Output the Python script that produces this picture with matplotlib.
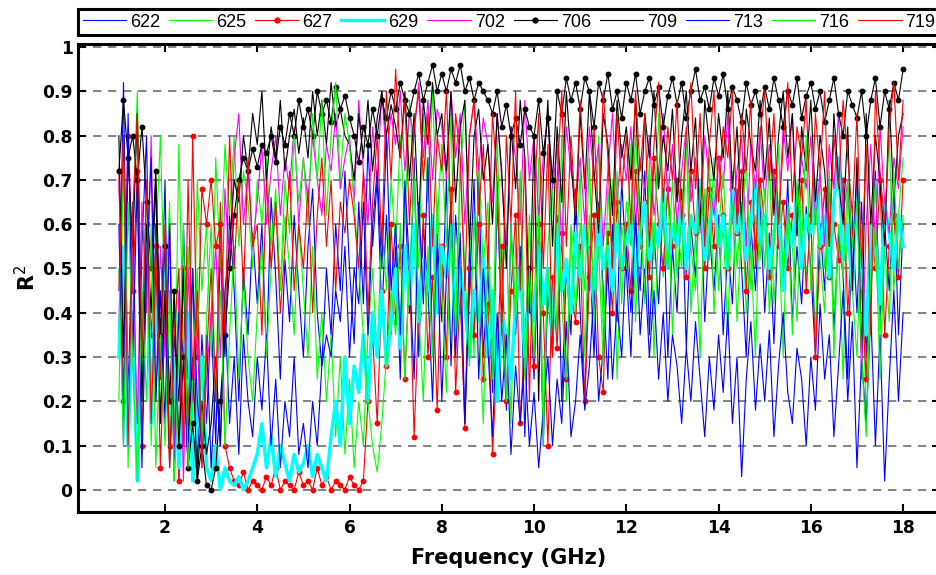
import numpy as np
import matplotlib
matplotlib.use("Agg")
import matplotlib.pyplot as plt
from matplotlib.ticker import FuncFormatter

plt.rcParams['font.family'] = ['Liberation Sans', 'DejaVu Sans']

# frequency axis: 1.0 .. 18.0 GHz, 0.1 GHz step
freq = np.round(np.arange(1.0, 18.05, 0.1), 2)

s622 = [0.35, 0.92, 0.2, 0.65, 0.05, 0.55, 0.8, 0.15, 0.6, 0.3,
        0.7, 0.1, 0.45, 0.02, 0.6, 0.25, 0.5, 0.05, 0.35, 0.15,
        0.4, 0.1, 0.55, 0.3, 0.62, 0.45, 0.2, 0.5, 0.35, 0.58,
        0.42, 0.6, 0.3, 0.66, 0.48, 0.25, 0.52, 0.38, 0.62, 0.45,
        0.3, 0.55, 0.68, 0.4, 0.28, 0.5, 0.35, 0.6, 0.45, 0.72,
        0.5, 0.33, 0.65, 0.42, 0.78, 0.55, 0.7, 0.4, 0.62, 0.35,
        0.55, 0.25, 0.68, 0.4, 0.75, 0.3, 0.6, 0.45, 0.2, 0.58,
        0.38, 0.7, 0.28, 0.62, 0.45, 0.15, 0.55, 0.35, 0.72, 0.3,
        0.5, 0.22, 0.65, 0.4, 0.18, 0.6, 0.35, 0.55, 0.12, 0.48,
        0.25, 0.58, 0.1, 0.45, 0.3, 0.62, 0.2, 0.5, 0.35, 0.68,
        0.4, 0.2, 0.55, 0.3, 0.65, 0.45, 0.25, 0.6, 0.38, 0.7,
        0.5, 0.3, 0.62, 0.45, 0.72, 0.35, 0.58, 0.42, 0.66, 0.3,
        0.55, 0.4, 0.68, 0.32, 0.6, 0.48, 0.7, 0.38, 0.58, 0.45,
        0.62, 0.35, 0.55, 0.42, 0.68, 0.5, 0.3, 0.6, 0.45, 0.65,
        0.4, 0.58, 0.33, 0.62, 0.48, 0.7, 0.38, 0.55, 0.42, 0.64,
        0.5, 0.3, 0.6, 0.45, 0.7, 0.36, 0.58, 0.48, 0.25, 0.62,
        0.4, 0.65, 0.3, 0.55, 0.72, 0.38, 0.6, 0.45, 0.68, 0.35,
        0.6]

s625 = [0.2, 0.75, 0.05, 0.6, 0.9, 0.3, 0.7, 0.1, 0.55, 0.8,
        0.4, 0.65, 0.1, 0.78, 0.3, 0.55, 0.15, 0.7, 0.45, 0.6,
        0.3, 0.75, 0.5, 0.78, 0.62, 0.8, 0.55, 0.72, 0.65, 0.5,
        0.7, 0.6, 0.75, 0.55, 0.68, 0.45, 0.62, 0.5, 0.35, 0.6,
        0.45, 0.3, 0.55, 0.25, 0.4, 0.2, 0.35, 0.12, 0.3, 0.08,
        0.25, 0.05, 0.2, 0.1, 0.35, 0.5, 0.3, 0.6, 0.45, 0.7,
        0.55, 0.8, 0.6, 0.88, 0.7, 0.5, 0.85, 0.65, 0.9, 0.6,
        0.78, 0.55, 0.85, 0.4, 0.7, 0.88, 0.6, 0.3, 0.75, 0.5,
        0.65, 0.25, 0.8, 0.45, 0.6, 0.15, 0.55, 0.7, 0.3, 0.62,
        0.4, 0.75, 0.1, 0.55, 0.68, 0.35, 0.8, 0.2, 0.6, 0.5,
        0.72, 0.3, 0.62, 0.45, 0.8, 0.35, 0.55, 0.7, 0.25, 0.6,
        0.5, 0.78, 0.38, 0.65, 0.42, 0.75, 0.3, 0.6, 0.48, 0.7,
        0.35, 0.62, 0.5, 0.8, 0.4, 0.58, 0.3, 0.68, 0.52, 0.75,
        0.45, 0.6, 0.35, 0.72, 0.5, 0.65, 0.4, 0.55, 0.3, 0.68,
        0.5, 0.75, 0.42, 0.6, 0.3, 0.65, 0.55, 0.38, 0.7, 0.48,
        0.6, 0.35, 0.72, 0.5, 0.62, 0.4, 0.55, 0.25, 0.68, 0.45,
        0.3, 0.6, 0.15, 0.5, 0.7, 0.35, 0.58, 0.8, 0.45, 0.62,
        0.75]

s627 = [0.72, 0.2, 0.8, 0.45, 0.72, 0.1, 0.6, 0.35, 0.55, 0.05,
        0.4, 0.1, 0.3, 0.02, 0.5, 0.15, 0.8, 0.3, 0.68, 0.6,
        0.7, 0.55, 0.6, 0.1, 0.05, 0.02, 0.01, 0.04, 0.0, 0.02,
        0.01, 0.0, 0.03, 0.01, 0.05, 0.0, 0.02, 0.01, 0.0, 0.04,
        0.01, 0.02, 0.0, 0.05, 0.01, 0.03, 0.0, 0.02, 0.01, 0.0,
        0.03, 0.01, 0.0, 0.02, 0.2, 0.35, 0.15, 0.45, 0.28, 0.6,
        0.38, 0.55, 0.25, 0.5, 0.12, 0.4, 0.62, 0.3, 0.48, 0.18,
        0.55, 0.3, 0.68, 0.22, 0.45, 0.14, 0.5, 0.35, 0.6, 0.25,
        0.42, 0.08, 0.3, 0.55, 0.2, 0.45, 0.62, 0.15, 0.35, 0.5,
        0.28, 0.6, 0.4, 0.1, 0.48, 0.32, 0.58, 0.25, 0.45, 0.38,
        0.55, 0.2, 0.48, 0.62, 0.3, 0.22, 0.58, 0.4, 0.65, 0.5,
        0.6, 0.45, 0.72, 0.55, 0.65, 0.48, 0.75, 0.6, 0.5, 0.68,
        0.55, 0.7, 0.62, 0.48, 0.72, 0.58, 0.65, 0.5, 0.68, 0.55,
        0.75, 0.62, 0.5, 0.68, 0.58, 0.72, 0.45, 0.65, 0.55, 0.7,
        0.6, 0.48, 0.72, 0.55, 0.65, 0.5, 0.62, 0.58, 0.7, 0.45,
        0.62, 0.3, 0.55, 0.68, 0.48, 0.6, 0.52, 0.7, 0.4, 0.58,
        0.65, 0.45, 0.25, 0.6, 0.5, 0.7, 0.35, 0.55, 0.62, 0.48,
        0.7]

s629 = [0.3, 0.55, 0.1, 0.4, 0.02, 0.35, 0.6, 0.15, 0.45, 0.25,
        0.5, 0.1, 0.3, 0.05, 0.2, 0.4, 0.02, 0.15, 0.3, 0.05,
        0.02, 0.1, 0.0, 0.05, 0.02, 0.01, 0.03, 0.0, 0.02, 0.05,
        0.08, 0.15, 0.05, 0.12, 0.03, 0.1, 0.06, 0.02, 0.08, 0.04,
        0.06, 0.1, 0.03, 0.08, 0.05, 0.02, 0.12, 0.2, 0.1, 0.3,
        0.15, 0.28, 0.22, 0.35, 0.2, 0.4, 0.3, 0.45, 0.28, 0.38,
        0.5, 0.32, 0.55, 0.42, 0.6, 0.38, 0.52, 0.45, 0.62, 0.4,
        0.55, 0.48, 0.6, 0.35, 0.5, 0.42, 0.3, 0.45, 0.38, 0.52,
        0.3, 0.45, 0.2, 0.4, 0.35, 0.25, 0.42, 0.5, 0.3, 0.45,
        0.38, 0.55, 0.42, 0.5, 0.35, 0.6, 0.45, 0.52, 0.4, 0.58,
        0.48, 0.6, 0.52, 0.42, 0.62, 0.5, 0.55, 0.45, 0.6, 0.5,
        0.55, 0.62, 0.48, 0.58, 0.65, 0.52, 0.6, 0.55, 0.68, 0.5,
        0.6, 0.55, 0.65, 0.5, 0.62, 0.58, 0.7, 0.52, 0.6, 0.66,
        0.55, 0.62, 0.5, 0.68, 0.58, 0.64, 0.52, 0.6, 0.7, 0.55,
        0.62, 0.5, 0.58, 0.65, 0.45, 0.6, 0.55, 0.68, 0.5, 0.62,
        0.58, 0.7, 0.55, 0.62, 0.48, 0.65, 0.75, 0.52, 0.6, 0.45,
        0.68, 0.5, 0.35, 0.6, 0.55, 0.42, 0.65, 0.58, 0.5, 0.62,
        0.55]

s702 = [0.7, 0.3, 0.82, 0.5, 0.15, 0.65, 0.4, 0.8, 0.2, 0.55,
        0.3, 0.6, 0.1, 0.45, 0.02, 0.5, 0.2, 0.35, 0.05, 0.25,
        0.4, 0.55, 0.3, 0.68, 0.5, 0.75, 0.85, 0.6, 0.72, 0.55,
        0.65, 0.78, 0.6, 0.72, 0.8, 0.62, 0.75, 0.68, 0.82, 0.6,
        0.75, 0.65, 0.8, 0.7, 0.62, 0.78, 0.72, 0.85, 0.68, 0.75,
        0.8, 0.65, 0.88, 0.72, 0.6, 0.82, 0.7, 0.9, 0.75, 0.85,
        0.78, 0.9, 0.72, 0.85, 0.8, 0.92, 0.75, 0.88, 0.7, 0.86,
        0.82, 0.7, 0.9, 0.75, 0.85, 0.6, 0.8, 0.88, 0.72, 0.84,
        0.78, 0.65, 0.85, 0.7, 0.55, 0.82, 0.75, 0.6, 0.88, 0.7,
        0.8, 0.62, 0.75, 0.85, 0.68, 0.78, 0.55, 0.82, 0.72, 0.65,
        0.75, 0.6, 0.82, 0.7, 0.78, 0.55, 0.72, 0.85, 0.65, 0.78,
        0.7, 0.82, 0.6, 0.75, 0.68, 0.8, 0.62, 0.72, 0.85, 0.66,
        0.78, 0.6, 0.72, 0.82, 0.65, 0.75, 0.58, 0.8, 0.7, 0.62,
        0.75, 0.68, 0.85, 0.6, 0.72, 0.8, 0.55, 0.78, 0.68, 0.82,
        0.65, 0.78, 0.7, 0.6, 0.82, 0.72, 0.85, 0.62, 0.75, 0.68,
        0.8, 0.6, 0.72, 0.55, 0.78, 0.68, 0.85, 0.62, 0.7, 0.5,
        0.72, 0.25, 0.6, 0.78, 0.55, 0.82, 0.65, 0.58, 0.75, 0.68,
        0.82]

s706 = [0.72, 0.88, 0.75, 0.8, 0.7, 0.82, 0.65, 0.5, 0.72, 0.35,
        0.55, 0.2, 0.45, 0.1, 0.3, 0.05, 0.15, 0.02, 0.1, 0.01,
        0.0, 0.05, 0.2, 0.35, 0.5, 0.62, 0.7, 0.75, 0.72, 0.77,
        0.73, 0.78, 0.76, 0.8, 0.74, 0.82, 0.78, 0.85, 0.8, 0.88,
        0.82, 0.86, 0.8, 0.9, 0.85, 0.88, 0.83, 0.91, 0.86, 0.89,
        0.84, 0.8, 0.74, 0.82, 0.78, 0.86, 0.8, 0.88, 0.84, 0.9,
        0.86, 0.92, 0.88, 0.85, 0.9, 0.94, 0.88, 0.92, 0.96, 0.9,
        0.94, 0.9, 0.95, 0.92, 0.96, 0.9, 0.93, 0.88, 0.92, 0.9,
        0.88, 0.85, 0.9, 0.82, 0.87, 0.8, 0.84, 0.78, 0.86, 0.82,
        0.8, 0.88, 0.76, 0.84, 0.7, 0.9, 0.85, 0.93, 0.88, 0.92,
        0.86, 0.93, 0.9, 0.82, 0.92, 0.88, 0.94, 0.86, 0.9, 0.84,
        0.92, 0.88, 0.94, 0.85, 0.9, 0.93, 0.87, 0.91, 0.82, 0.89,
        0.93, 0.87, 0.92, 0.84, 0.9, 0.95, 0.88, 0.91, 0.86, 0.93,
        0.89, 0.94, 0.86, 0.91, 0.88, 0.83, 0.92, 0.87, 0.9, 0.85,
        0.91, 0.86, 0.93, 0.88, 0.82, 0.9, 0.87, 0.93, 0.84, 0.89,
        0.92, 0.86, 0.9, 0.83, 0.88, 0.93, 0.85, 0.8, 0.9, 0.87,
        0.84, 0.9, 0.8, 0.88, 0.93, 0.82, 0.9, 0.86, 0.92, 0.88,
        0.95]

s709 = [0.8, 0.3, 0.75, 0.55, 0.85, 0.2, 0.6, 0.4, 0.7, 0.15,
        0.45, 0.05, 0.35, 0.2, 0.5, 0.1, 0.3, 0.02, 0.2, 0.08,
        0.15, 0.3, 0.1, 0.45, 0.55, 0.7, 0.65, 0.8, 0.72, 0.85,
        0.78, 0.9, 0.7, 0.82, 0.75, 0.88, 0.72, 0.8, 0.86, 0.76,
        0.84, 0.75, 0.9, 0.8, 0.88, 0.78, 0.92, 0.82, 0.86, 0.8,
        0.78, 0.7, 0.85, 0.75, 0.88, 0.72, 0.84, 0.9, 0.8, 0.87,
        0.82, 0.75, 0.9, 0.7, 0.85, 0.6, 0.88, 0.78, 0.92, 0.8,
        0.85, 0.72, 0.9, 0.65, 0.82, 0.88, 0.55, 0.8, 0.86, 0.7,
        0.78, 0.6, 0.85, 0.72, 0.5, 0.82, 0.68, 0.88, 0.75, 0.4,
        0.8, 0.2, 0.7, 0.88, 0.55, 0.82, 0.65, 0.9, 0.75, 0.6,
        0.85, 0.68, 0.9, 0.72, 0.58, 0.85, 0.78, 0.62, 0.88, 0.75,
        0.82, 0.7, 0.88, 0.6, 0.85, 0.75, 0.9, 0.68, 0.8, 0.72,
        0.86, 0.65, 0.8, 0.9, 0.72, 0.84, 0.6, 0.88, 0.78, 0.7,
        0.85, 0.75, 0.9, 0.68, 0.82, 0.6, 0.86, 0.78, 0.72, 0.88,
        0.7, 0.84, 0.62, 0.8, 0.9, 0.75, 0.85, 0.58, 0.82, 0.72,
        0.88, 0.65, 0.8, 0.72, 0.55, 0.85, 0.7, 0.6, 0.82, 0.45,
        0.75, 0.3, 0.85, 0.6, 0.8, 0.7, 0.55, 0.88, 0.65, 0.8,
        0.85]

s713 = [0.6, 0.1, 0.85, 0.3, 0.7, 0.05, 0.5, 0.75, 0.2, 0.45,
        0.15, 0.6, 0.02, 0.4, 0.3, 0.05, 0.5, 0.2, 0.1, 0.35,
        0.05, 0.25, 0.1, 0.4, 0.15, 0.3, 0.08, 0.35, 0.2, 0.12,
        0.3, 0.18, 0.35, 0.1, 0.25, 0.05, 0.2, 0.12, 0.3, 0.08,
        0.15, 0.05, 0.2, 0.1, 0.28, 0.35, 0.3, 0.45, 0.38, 0.55,
        0.3, 0.5, 0.42, 0.65, 0.35, 0.6, 0.72, 0.5, 0.8, 0.45,
        0.6, 0.35, 0.7, 0.5, 0.25, 0.65, 0.42, 0.75, 0.3, 0.55,
        0.2, 0.48, 0.65, 0.3, 0.58, 0.15, 0.45, 0.7, 0.25, 0.5,
        0.32, 0.12, 0.4, 0.2, 0.35, 0.08, 0.28, 0.15, 0.3, 0.1,
        0.22, 0.05, 0.18, 0.3, 0.1, 0.25, 0.15, 0.38, 0.12, 0.2,
        0.35, 0.18, 0.28, 0.45, 0.2, 0.32, 0.5, 0.25, 0.42, 0.3,
        0.55, 0.4, 0.62, 0.35, 0.5, 0.3, 0.45, 0.25, 0.4, 0.2,
        0.35, 0.28, 0.15, 0.32, 0.2, 0.38, 0.25, 0.12, 0.3, 0.18,
        0.35, 0.22, 0.4, 0.15, 0.3, 0.03, 0.25, 0.38, 0.18, 0.33,
        0.2, 0.36, 0.12, 0.28, 0.4, 0.22, 0.15, 0.32, 0.25, 0.1,
        0.3, 0.18, 0.42, 0.25, 0.35, 0.12, 0.28, 0.45, 0.2, 0.38,
        0.05, 0.3, 0.15, 0.4, 0.1, 0.35, 0.02, 0.25, 0.45, 0.2,
        0.4]

s716 = [0.5, 0.1, 0.65, 0.3, 0.02, 0.45, 0.2, 0.6, 0.05, 0.35,
        0.1, 0.45, 0.02, 0.3, 0.6, 0.05, 0.25, 0.5, 0.1, 0.38,
        0.6, 0.2, 0.45, 0.1, 0.35, 0.55, 0.25, 0.48, 0.3, 0.2,
        0.4, 0.55, 0.3, 0.5, 0.65, 0.45, 0.7, 0.58, 0.8, 0.65,
        0.75, 0.6, 0.85, 0.7, 0.88, 0.62, 0.8, 0.92, 0.7, 0.85,
        0.78, 0.65, 0.5, 0.35, 0.2, 0.1, 0.04, 0.15, 0.3, 0.45,
        0.35, 0.6, 0.25, 0.5, 0.7, 0.4, 0.2, 0.55, 0.3, 0.65,
        0.45, 0.22, 0.6, 0.35, 0.75, 0.5, 0.28, 0.62, 0.4, 0.15,
        0.55, 0.3, 0.68, 0.45, 0.2, 0.6, 0.38, 0.72, 0.25, 0.5,
        0.3, 0.62, 0.15, 0.5, 0.35, 0.7, 0.42, 0.25, 0.58, 0.4,
        0.6, 0.45, 0.75, 0.38, 0.55, 0.28, 0.68, 0.5, 0.72, 0.42,
        0.65, 0.55, 0.8, 0.6, 0.45, 0.72, 0.52, 0.85, 0.6, 0.5,
        0.7, 0.48, 0.62, 0.8, 0.55, 0.45, 0.68, 0.58, 0.75, 0.4,
        0.58, 0.72, 0.5, 0.65, 0.38, 0.6, 0.75, 0.45, 0.62, 0.52,
        0.68, 0.4, 0.55, 0.78, 0.48, 0.62, 0.35, 0.7, 0.55, 0.8,
        0.45, 0.65, 0.52, 0.4, 0.72, 0.3, 0.6, 0.48, 0.7, 0.55,
        0.65, 0.3, 0.12, 0.45, 0.6, 0.25, 0.55, 0.38, 0.72, 0.5,
        0.62]

s719 = [0.45, 0.8, 0.1, 0.62, 0.85, 0.3, 0.7, 0.15, 0.5, 0.25,
        0.6, 0.05, 0.35, 0.5, 0.1, 0.7, 0.25, 0.45, 0.05, 0.3,
        0.5, 0.2, 0.65, 0.35, 0.8, 0.5, 0.7, 0.45, 0.75, 0.55,
        0.6, 0.35, 0.7, 0.5, 0.65, 0.4, 0.55, 0.72, 0.45, 0.6,
        0.5, 0.68, 0.4, 0.62, 0.75, 0.55, 0.7, 0.45, 0.65, 0.58,
        0.7, 0.62, 0.5, 0.72, 0.4, 0.65, 0.8, 0.55, 0.9, 0.7,
        0.95, 0.75, 0.88, 0.6, 0.82, 0.9, 0.7, 0.85, 0.55, 0.8,
        0.72, 0.9, 0.6, 0.85, 0.75, 0.45, 0.8, 0.88, 0.62, 0.78,
        0.5, 0.85, 0.7, 0.35, 0.8, 0.6, 0.9, 0.45, 0.75, 0.2,
        0.65, 0.85, 0.5, 0.78, 0.3, 0.7, 0.9, 0.55, 0.8, 0.62,
        0.88, 0.7, 0.45, 0.82, 0.6, 0.9, 0.75, 0.5, 0.85, 0.68,
        0.8, 0.6, 0.9, 0.72, 0.85, 0.55, 0.78, 0.92, 0.65, 0.82,
        0.7, 0.88, 0.6, 0.8, 0.92, 0.68, 0.85, 0.55, 0.78, 0.9,
        0.65, 0.82, 0.75, 0.9, 0.6, 0.85, 0.72, 0.88, 0.5, 0.8,
        0.9, 0.7, 0.85, 0.6, 0.78, 0.92, 0.65, 0.82, 0.75, 0.88,
        0.6, 0.85, 0.72, 0.9, 0.55, 0.8, 0.68, 0.88, 0.75, 0.62,
        0.85, 0.5, 0.78, 0.35, 0.9, 0.72, 0.6, 0.82, 0.92, 0.7,
        0.88]

labels = ['622', '625', '627', '629', '702', '706', '709', '713', '716', '719']
series = [s622, s625, s627, s629, s702, s706, s709, s713, s716, s719]
colors = ['#0000ff', '#00ff00', '#ff0000', '#00ffff', '#ff00ff',
          '#000000', '#000000', '#0000ff', '#00ff00', '#ff0000']
widths = [0.8, 0.8, 0.8, 2.5, 0.8, 0.8, 0.8, 0.8, 0.8, 0.8]
markers = ['', '', 'o', '', '', 'o', '', '', '', '']

fig = plt.figure(figsize=(9.37, 5.75), dpi=100)
ax = fig.add_axes([78 / 937, 63 / 575, 862 / 937, 468 / 575])

for y, lab, c, w, m in zip(series, labels, colors, widths, markers):
    ax.plot(freq, y, color=c, lw=w, marker=m if m else None, ms=3.2,
            mec=c, mfc=c, label=lab)

ax.set_xlim(0.114, 18.8)
ax.set_ylim(-0.05, 1.007)
ax.set_xticks(np.arange(2, 19, 2))
ax.set_yticks(np.round(np.arange(0, 1.01, 0.1), 1))
ax.yaxis.set_major_formatter(FuncFormatter(lambda v, p: '%g' % v))
ax.yaxis.grid(True, ls=(0, (5, 4)), color='#707070', lw=1.2)
ax.set_axisbelow(True)

# axis texts look wider than Arial bold in the original, DejaVu bold fits better
bold = dict(family='DejaVu Sans', weight='bold')
ax.tick_params(direction='in', length=6, width=1.5, top=True, right=True)
ax.tick_params(axis='x', pad=5)
ax.tick_params(axis='y', pad=4)
for lbl in ax.get_xticklabels() + ax.get_yticklabels():
    lbl.set_fontfamily('DejaVu Sans')
    lbl.set_fontweight('bold')
    lbl.set_fontsize(12.3)
for sp in ax.spines.values():
    sp.set_linewidth(2.2)

ax.set_xlabel('Frequency (GHz)', fontsize=15, labelpad=8, **bold)
ax.set_ylabel('R$^2$', fontsize=15, labelpad=2, **bold)

leg = ax.legend(loc='upper left', ncol=10, mode='expand', numpoints=1,
                bbox_to_anchor=(78 / 937, 566 / 575, 862 / 937, 0.0),
                bbox_transform=fig.transFigure, borderaxespad=0,
                borderpad=0.25, prop={'family': 'Liberation Sans', 'size': 13},
                handlelength=2.4, handletextpad=0.22, columnspacing=0.5,
                fancybox=False, framealpha=1, edgecolor='black',
                markerscale=1.1)
leg.get_frame().set_linewidth(2.2)

fig.savefig('out.png', dpi=100)
